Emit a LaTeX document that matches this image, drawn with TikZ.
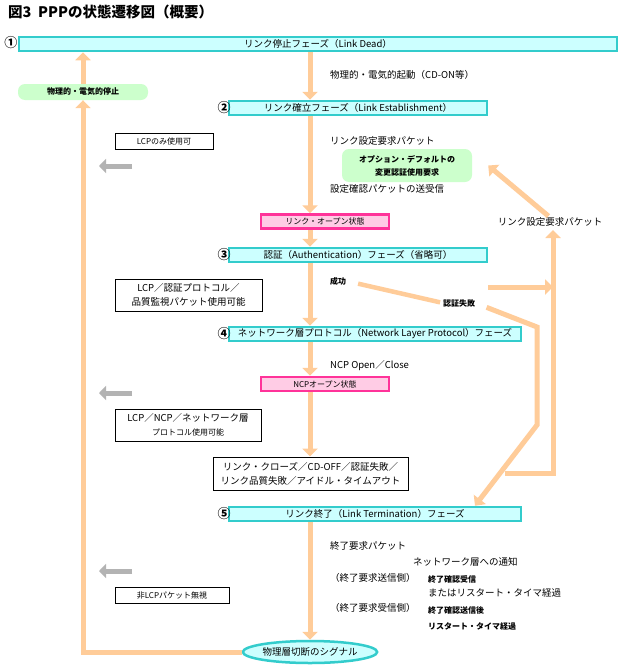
\documentclass[tikz,border=0pt]{standalone}
\usepackage{fontspec}
\setmainfont{Noto Sans CJK JP}
\usepackage{tikz}
\usetikzlibrary{shapes.geometric}
\usetikzlibrary{arrows.meta}
\usetikzlibrary{calc}
\definecolor{phasefill}{HTML}{CCFFFF}
\definecolor{phaseline}{HTML}{33CCCC}
\definecolor{flowcol}{HTML}{FFCC99}
\definecolor{softfill}{HTML}{CCFFCC}
\definecolor{openfill}{HTML}{FFCCE5}
\definecolor{openline}{HTML}{FF3399}
\definecolor{backcol}{HTML}{B3B3B3}
\tikzstyle{phase}=[draw=phaseline, fill=phasefill, line width=2.5pt, minimum height=14pt, inner sep=0pt, font=\fontsize{9.5}{10}\selectfont]
\tikzstyle{openst}=[draw=openline, fill=openfill, line width=2.5pt, minimum width=128pt, minimum height=14pt, inner sep=0pt, font=\fontsize{8}{9}\selectfont]
\tikzstyle{note}=[draw, fill=white, line width=1pt, inner sep=0pt, align=center, font=\fontsize{9.5}{14}\selectfont]
\tikzstyle{soft}=[fill=softfill, rounded corners=7pt, inner sep=0pt, align=center, font=\fontsize{8}{13}\selectfont\bfseries]
\tikzstyle{flow}=[draw=flowcol, line width=5pt, -{Triangle[width=15pt,length=8pt]}]
\tikzstyle{flowline}=[draw=flowcol, line width=4.5pt]
\tikzstyle{back}=[draw=backcol, line width=5pt, -{Triangle[width=14pt,length=7pt]}]
\tikzstyle{num}=[font=\fontsize{13}{13}\selectfont\bfseries, inner sep=0pt]
\tikzstyle{lbl}=[anchor=west, inner sep=0pt, font=\fontsize{9.5}{10}\selectfont]
\tikzstyle{small}=[anchor=west, inner sep=0pt, font=\fontsize{8}{9}\selectfont\bfseries]

\begin{document}
\begin{tikzpicture}[x=1pt,y=-1pt]
\fill[white] (0,0) rectangle (622,672);
\useasboundingbox (0,0) rectangle (622,672);
\node[anchor=west, inner sep=0pt, font=\fontsize{14.5}{15}\selectfont\bfseries] (title) at (8,12) {図3\ \ PPPの状態遷移図（概要）};
\node[phase, minimum width=598pt] (p1) at (318,44) {リンク停止フェーズ（Link Dead）};
\node[phase, minimum width=258pt] (p2) at (358,108) {リンク確立フェーズ（Link Establishment）};
\node[phase, minimum width=258pt] (p3) at (358,255) {認証（Authentication）フェーズ（省略可）};
\node[phase, minimum width=292pt] (p4) at (375,334) {ネットワーク層プロトコル（Network Layer Protocol）フェーズ};
\node[phase, minimum width=292pt] (p5) at (375,514) {リンク終了（Link Termination）フェーズ};
\node[num] (n1) at (11,43) {①};
\node[num] (n2) at (224,108) {②};
\node[num] (n3) at (224,255) {③};
\node[num] (n4) at (224,334) {④};
\node[num] (n5) at (224,514) {⑤};
\node[openst] (open1) at (325,221.5) {リンク・オープン状態};
\node[openst] (open2) at (325,384) {NCPオープン状態};
\node[soft, minimum width=130pt, minimum height=16pt] (stop) at (83,92) {物理的・電気的停止};
\node[soft, minimum width=130pt, minimum height=33pt] (opt) at (407,165.5) {オプション・デフォルトの\\変更認証使用要求};
\node[note, minimum width=98pt, minimum height=16pt, font=\fontsize{8}{9}\selectfont] (lcp1) at (164,141) {LCPのみ使用可};
\node[note, minimum width=147pt, minimum height=32pt] (lcp2) at (188.5,295) {LCP／認証プロトコル／\\品質監視パケット使用可能};
\node[note, minimum width=146pt, minimum height=32pt] (lcp3) at (188,425) {LCP／NCP／ネットワーク層\\{\fontsize{8}{9}\selectfont プロトコル使用可能}};
\node[note, minimum width=114pt, minimum height=16pt, font=\fontsize{8}{9}\selectfont] (nolcp) at (172,595) {非LCPパケット無視};
\node[note, minimum width=195pt, minimum height=33pt] (close) at (310.5,473.5) {リンク・クローズ／CD-OFF／認証失敗／\\リンク品質失敗／アイドル・タイムアウト};
\node[ellipse, draw=phaseline, fill=phasefill, line width=2.5pt, minimum width=128pt, minimum height=22pt, inner sep=0pt, font=\fontsize{9.5}{10}\selectfont] (sig) at (310,652) {物理層切断のシグナル};
\node[lbl] (cdon) at (330,75) {物理的・電気的起動（CD-ON等）};
\node[lbl] (req1) at (330,141) {リンク設定要求パケット};
\node[lbl] (conf) at (330,189) {設定確認パケットの送受信};
\node[small] (ok) at (330,281) {成功};
\node[small] (fail) at (443,303) {認証失敗};
\node[lbl] (ncp) at (330,366) {NCP Open／Close};
\node[lbl, anchor=center] (req2) at (550,222) {リンク設定要求パケット};
\node[lbl] (treq) at (330,546) {終了要求パケット};
\node[lbl] (tnote) at (413,562) {ネットワーク層への通知};
\node[lbl] (tsend) at (330,578) {（終了要求送信側）};
\node[small] (tsend1) at (428,579) {終了確認受信};
\node[lbl] (tsend2) at (428,593) {またはリスタート・タイマ経過};
\node[lbl] (trecv) at (330,608) {（終了要求受信側）};
\node[small] (trecv1) at (428,610) {終了確認送信後};
\node[small] (trecv2) at (428,626) {リスタート・タイマ経過};
\coordinate (s1) at (553,287);
\coordinate (r0) at (505,473);
\coordinate (r1) at (553,473);
\coordinate (r2) at (553,230);
\coordinate (f1) at (537,327);
\coordinate (f2) at (537,425);
\coordinate (g1) at (132,166);
\coordinate (g2) at (132,393);
\coordinate (g3) at (132,571);
\draw[flow] (p1.south -| sig) -- (p2.north -| sig);
\draw[flow] (p2.south -| sig) -- (open1.north -| sig);
\draw[flow] (open1.south -| sig) -- (p3.north -| sig);
\draw[flow] (p3.south -| sig) -- (p4.north -| sig);
\draw[flow] (p4.south -| sig) -- (open2.north -| sig);
\draw[flow] (open2.south -| sig) -- (close.north -| sig);
\draw[flow] (p5.south -| sig) -- (sig.north);
\draw[flow] (sig.west) -| (stop.south);
\draw[flow] (stop.north) -- (stop.north |- p1.south);
\draw[flowline, shorten <=12pt, shorten >=3pt] (ok.east) -- (fail.west);
\draw[flow, shorten <=12pt] (fail.east) -- (f1) -- (f2) -- ($(p5.north)+(100,0)$);
\draw[flow] (p3.east |- s1) -- (s1);
\draw[flow] (r0) -- (r1) -- (r2);
\draw[flow, shorten <=2pt] (req2.north) -- ($(opt.east)+(16,0)$);
\draw[back] (g1) -- ++(-33,0);
\draw[back] (g2) -- ++(-33,0);
\draw[back] (g3) -- ++(-33,0);
\end{tikzpicture}
\end{document}
